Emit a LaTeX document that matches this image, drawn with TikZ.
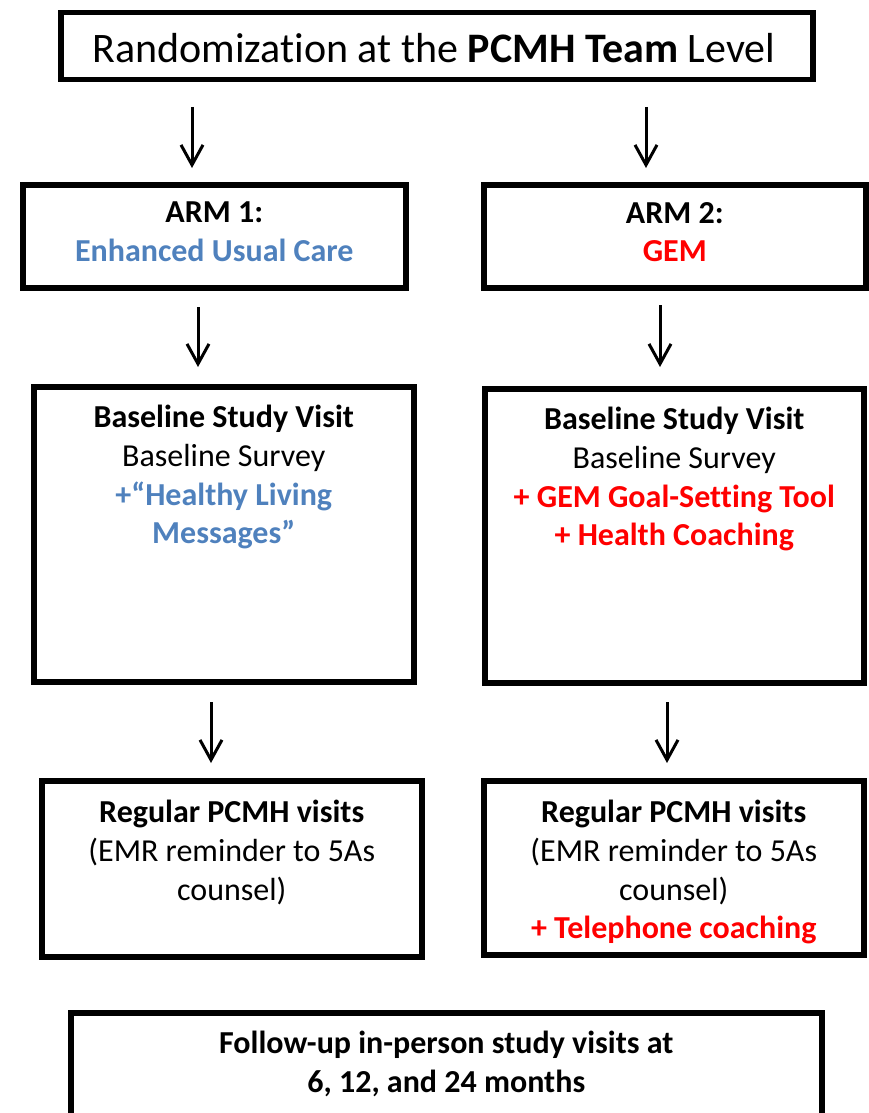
\documentclass[tikz,border=0pt]{standalone}
\usepackage{fontspec}
\setmainfont{Carlito}[Ligatures=NoCommon]
\usepackage{tikz}
\usetikzlibrary{arrows.meta}
\definecolor{armblue}{HTML}{4F81BD}
\definecolor{armred}{HTML}{FF0000}

\begin{document}
\begin{tikzpicture}[x=1pt, y=-1pt,
  box/.style={draw, line width=5.5pt, inner sep=0pt, anchor=north west},
  txt/.style={anchor=north, align=center, inner sep=0pt,
    font=\fontsize{32}{38.7}\selectfont, execute at begin node=\strut},
  boldtxt/.style={txt, font=\fontsize{32}{38.7}\selectfont\bfseries},
  arr/.style={line width=3pt, -{Straight Barb[length=20pt, width=22pt, line width=3pt]}}]
\useasboundingbox (0,0) rectangle (869,1113);
\clip (0,0) rectangle (869,1113);
% boxes
\node[box, minimum width=752pt, minimum height=67pt] (rand) at (58,10) {};
\node[box, minimum width=383pt, minimum height=103pt] (arm1) at (20,182) {};
\node[box, minimum width=382pt, minimum height=103pt] (arm2) at (481,182) {};
\node[box, minimum width=380pt, minimum height=295pt] (base1) at (31,384) {};
\node[box, minimum width=379pt, minimum height=294pt] (base2) at (482,386) {};
\node[box, minimum width=380pt, minimum height=176pt] (reg1) at (39,778) {};
\node[box, minimum width=380pt, minimum height=174pt] (reg2) at (481,778) {};
\node[box, minimum width=751pt, minimum height=130pt] (fu) at (68,1010) {};
% texts
\node[anchor=base, inner sep=0pt, font=\fontsize{42}{50}\selectfont] (randtxt) at (434,63)
  {Randomization at the \textbf{PCMH Team} Level};
\node[boldtxt] (arm1txt) at ([yshift=-20pt]arm1.north)
  {ARM 1:\\ \textcolor{armblue}{Enhanced Usual Care}};
\node[boldtxt] (arm2txt) at ([yshift=-20pt]arm2.north)
  {ARM 2:\\ \textcolor{armred}{GEM}};
\node[txt] (base1txt) at ([yshift=-21pt]base1.north)
  {\textbf{Baseline Study Visit}\\ Baseline Survey\\
   \textcolor{armblue}{\textbf{+“Healthy Living}}\\ \textcolor{armblue}{\textbf{Messages”}}};
\node[txt] (base2txt) at ([yshift=-21pt]base2.north)
  {\textbf{Baseline Study Visit}\\ Baseline Survey\\
   \textcolor{armred}{\textbf{+ GEM Goal-Setting Tool}}\\ \textcolor{armred}{\textbf{+ Health Coaching}}};
\node[txt] (reg1txt) at ([yshift=-22pt]reg1.north)
  {\textbf{Regular PCMH visits}\\ (EMR reminder to 5As\\ counsel)};
\node[txt] (reg2txt) at ([yshift=-22pt]reg2.north)
  {\textbf{Regular PCMH visits}\\ (EMR reminder to 5As\\ counsel)\\
   \textcolor{armred}{\textbf{+ Telephone coaching}}};
\node[boldtxt] (futxt) at ([yshift=-21pt]fu.north)
  {Follow-up in-person study visits at\\ 6, 12, and 24 months};
% arrows
\foreach \n/\x/\ya/\yb in {a1/192/107/168, a2/646/107/168, b1/198/307/367,
    b2/660/305/367, c1/211/702/763, c2/667/702/763} {
  \coordinate (\n s) at (\x,\ya);
  \coordinate (\n e) at (\x,\yb);
  \draw[arr] (\n s) -- (\n e);
}
\end{tikzpicture}
\end{document}
